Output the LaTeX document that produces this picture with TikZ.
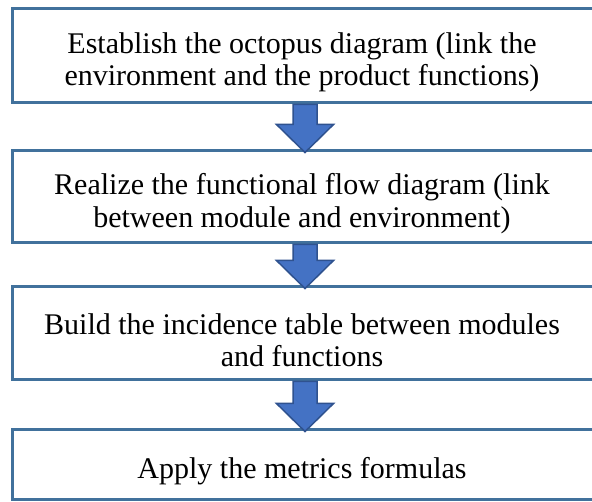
\documentclass[tikz,border=0pt]{standalone}
\usepackage{fontspec}
\setmainfont{Liberation Serif}
\usetikzlibrary{calc}

\definecolor{boxline}{HTML}{41719C}
\definecolor{arrowfill}{HTML}{4472C4}
\definecolor{arrowline}{HTML}{2F528F}

\tikzset{
  stepbox/.style = {draw=boxline, line width=3pt, fill=white,
    minimum width=586pt, inner sep=0pt},
  steptext/.style = {align=center, inner sep=0pt, xshift=-3pt, yshift=-6.5pt,
    font=\fontsize{30}{32.5}\selectfont},
  blockarrow/.style = {fill=arrowfill, draw=arrowline, line width=1.5pt, line join=miter},
}

\newcommand\blockarrow[2]{
  \filldraw[blockarrow] ($(#1.south)+(-12,0)$) -- ($(#2.north)+(-12,25)$)
    -- ($(#2.north)+(-28.5,25)$) -- ($(#2.north)+(0,-3)$) -- ($(#2.north)+(28.5,25)$)
    -- ($(#2.north)+(12,25)$) -- ($(#1.south)+(12,0)$) -- cycle;
}

\begin{document}
\begin{tikzpicture}[x=1pt, y=1pt]
    \useasboundingbox[fill=white] (0, 0) rectangle (592, 502);
    \node[stepbox, minimum height=94pt, label={[steptext]center:{Establish the octopus diagram (link the\\ environment and the product functions)}}] (octopus) at (305, 446) {};
    \node[stepbox, minimum height=92pt, label={[steptext]center:{Realize the functional flow diagram (link\\ between module and environment)}}] (flow) at (305, 305) {};
    \node[stepbox, minimum height=93pt, label={[steptext]center:{Build the incidence table between modules\\ and functions}}] (incidence) at (305, 168.5) {};
    \node[stepbox, minimum height=70pt, label={[steptext]center:{Apply the metrics formulas}}] (metrics) at (305, 37) {};

    \blockarrow{octopus}{flow}
    \blockarrow{flow}{incidence}
    \blockarrow{incidence}{metrics}
  \end{tikzpicture}
\end{document}
